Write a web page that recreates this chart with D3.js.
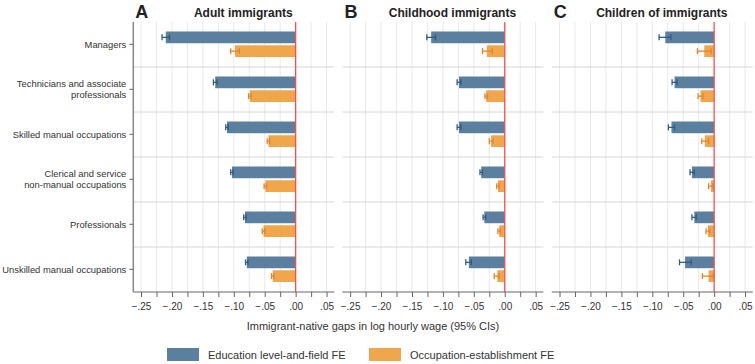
<!DOCTYPE html>
<html lang="en">
<head>
  <meta charset="UTF-8">
  <title>Immigrant-native wage gaps</title>
  <script src="https://cdn.jsdelivr.net/npm/d3@7"></script>
  <style>
    body { margin: 0; background: #fff; }
    svg text { font-family: "Liberation Sans", Arial, sans-serif; fill: #333; }
  </style>
</head>
<body>
  <svg id="chart"></svg>
  <script>
    // occupations, top to bottom
    var occupations = [
      ["Managers"],
      ["Technicians and associate", "professionals"],
      ["Skilled manual occupations"],
      ["Clerical and service", "non-manual occupations"],
      ["Professionals"],
      ["Unskilled manual occupations"]
    ];
    var panels = ["A", "B", "C"];
    var panelTitles = ["Adult immigrants", "Childhood immigrants", "Children of immigrants"];
    var seriesNames = ["Education level-and-field FE", "Occupation-establishment FE"];
    var tickValues = [-0.25, -0.2, -0.15, -0.1, -0.05, 0, 0.05];

    // point estimates [panel][occupation]
    var eduEst = [
      [-0.210, -0.130, -0.111, -0.103, -0.082, -0.079],
      [-0.119, -0.074, -0.074, -0.038, -0.033, -0.058],
      [-0.079, -0.064, -0.069, -0.036, -0.032, -0.047]
    ];
    var eduLo = [
      [-0.216, -0.133, -0.113, -0.105, -0.084, -0.081],
      [-0.126, -0.077, -0.077, -0.040, -0.035, -0.063],
      [-0.089, -0.068, -0.074, -0.039, -0.036, -0.056]
    ];
    var eduHi = [
      [-0.204, -0.127, -0.109, -0.101, -0.080, -0.077],
      [-0.112, -0.071, -0.071, -0.036, -0.031, -0.054],
      [-0.070, -0.060, -0.064, -0.032, -0.029, -0.037]
    ];
    var occEst = [
      [-0.098, -0.074, -0.044, -0.049, -0.052, -0.037],
      [-0.029, -0.030, -0.022, -0.011, -0.009, -0.012],
      [-0.016, -0.022, -0.015, -0.005, -0.010, -0.009]
    ];
    var occLo = [
      [-0.105, -0.076, -0.046, -0.051, -0.054, -0.039],
      [-0.036, -0.032, -0.025, -0.013, -0.011, -0.017],
      [-0.027, -0.026, -0.020, -0.009, -0.013, -0.019]
    ];
    var occHi = [
      [-0.091, -0.072, -0.042, -0.047, -0.050, -0.035],
      [-0.020, -0.028, -0.019, -0.009, -0.007, -0.009],
      [-0.005, -0.018, -0.009, -0.002, -0.007, -0.001]
    ];

    var width = 755, height = 364;
    var plotTop = 22, plotBottom = 292;
    var panelLeft = [133.3, 342.4, 551.8], panelW = 201;
    var barColor = ["#5b7f9f", "#f0a64a"];
    var ciColor = ["#2f5a85", "#e4842a"];

    var svg = d3.select("#chart").attr("width", width).attr("height", height);

    var y = d3.scaleBand().domain(d3.range(occupations.length)).range([plotTop, plotBottom]);
    var yIn = d3.scaleBand().domain([0, 1]).range([9.5, 35]).paddingInner(0.15);

    var fmt = function(v) {
      if (Math.abs(v) < 1e-9) return ".00";
      var s = d3.format(".2f")(Math.abs(v)).replace(/^0/, "");
      return v < 0 ? "\u2212" + s : s;
    };

    panels.forEach(function(p, pi) {
      var x = d3.scaleLinear().domain([-0.2625, 0.0625]).range([panelLeft[pi], panelLeft[pi] + panelW]);
      var g = svg.append("g");
      var grid = d3.range(-0.25, 0.0626, 0.025).filter(function(v) { return Math.abs(v) > 1e-9; });

      // vertical grid
      g.selectAll(".vg").data(grid).enter().append("line")
          .attr("x1", function(d) { return x(d); }).attr("x2", function(d) { return x(d); })
          .attr("y1", plotTop).attr("y2", plotBottom)
          .attr("stroke", "#e9e9e9").attr("stroke-width", 1);

      // group separators
      g.selectAll(".hg").data(d3.range(1, occupations.length)).enter().append("line")
          .attr("x1", panelLeft[pi]).attr("x2", panelLeft[pi] + panelW)
          .attr("y1", function(d) { return y(d); }).attr("y2", function(d) { return y(d); })
          .attr("stroke", "#d6d6d6").attr("stroke-width", 1);

      var series = [
        { est: eduEst[pi], lo: eduLo[pi], hi: eduHi[pi] },
        { est: occEst[pi], lo: occLo[pi], hi: occHi[pi] }
      ];
      series.forEach(function(s, si) {
        var rows = s.est.map(function(v, i) { return { i: i, v: v, lo: s.lo[i], hi: s.hi[i] }; });
        g.selectAll(".bar" + si).data(rows).enter().append("rect")
            .attr("x", function(d) { return x(d.v); })
            .attr("width", function(d) { return x(0) - x(d.v); })
            .attr("y", function(d) { return y(d.i) + yIn(si); })
            .attr("height", yIn.bandwidth())
            .attr("fill", barColor[si]);
        var ci = g.selectAll(".ci" + si).data(rows).enter().append("g")
            .attr("transform", function(d) { return "translate(0," + (y(d.i) + yIn(si) + yIn.bandwidth() / 2) + ")"; });
        ci.append("line")
            .attr("x1", function(d) { return x(d.lo); }).attr("x2", function(d) { return x(d.hi); })
            .attr("stroke", ciColor[si]).attr("stroke-width", 1.3);
        [ "lo", "hi" ].forEach(function(k) {
          ci.append("line")
              .attr("x1", function(d) { return x(d[k]); }).attr("x2", function(d) { return x(d[k]); })
              .attr("y1", -3).attr("y2", 3)
              .attr("stroke", ciColor[si]).attr("stroke-width", 1.3);
        });
      });

      // zero line
      g.append("line")
          .attr("x1", x(0)).attr("x2", x(0)).attr("y1", plotTop).attr("y2", plotBottom)
          .attr("stroke", "#ff4a4a").attr("stroke-width", 1.3);

      // x axis
      var ax = g.append("g").attr("transform", "translate(0," + plotBottom + ")")
          .call(d3.axisBottom(x).tickValues(d3.range(-0.25, 0.0626, 0.025)).tickSize(5)
              .tickFormat(function(d) { return tickValues.some(function(t) { return Math.abs(t - d) < 1e-9; }) ? fmt(d) : ""; }));
      ax.select(".domain").attr("stroke", "#666").attr("d", "M" + panelLeft[pi] + ",0H" + (panelLeft[pi] + panelW));
      ax.selectAll(".tick line").attr("stroke", "#666");
      ax.selectAll(".tick text").attr("dy", "0.95em").style("font-size", "10px").style("fill", "#333");

      // titles
      svg.append("text").attr("x", panelLeft[pi] + 2).attr("y", 18)
          .style("font-size", "18px").style("font-weight", "bold").style("fill", "#222").text(p);
      svg.append("text").attr("x", panelLeft[pi] + panelW / 2 + 9.5).attr("y", 17)
          .attr("text-anchor", "middle")
          .style("font-size", "12px").style("font-weight", "bold").style("fill", "#222").text(panelTitles[pi]);
    });

    // y axis (panel A only)
    svg.append("line").attr("x1", panelLeft[0]).attr("x2", panelLeft[0]).attr("y1", plotTop).attr("y2", plotBottom)
        .attr("stroke", "#888").attr("stroke-width", 1.5);
    var yl = svg.selectAll(".ylab").data(occupations).enter().append("g")
        .attr("transform", function(d, i) { return "translate(" + panelLeft[0] + "," + (y(i) + 22.3) + ")"; });
    yl.append("line").attr("x1", -4).attr("x2", 0).attr("stroke", "#666");
    yl.append("text").attr("x", -7).attr("text-anchor", "end").style("font-size", "9.4px")
        .each(function(d) {
          var t = d3.select(this);
          d.forEach(function(line, k) {
            t.append("tspan").attr("x", -7)
                .attr("dy", k === 0 ? (d.length === 1 ? "0.35em" : "-0.2em") : "1.15em")
                .text(line);
          });
        });

    // x axis title
    svg.append("text").attr("x", 373).attr("y", 330).attr("text-anchor", "middle")
        .style("font-size", "11px").text("Immigrant-native gaps in log hourly wage (95% CIs)");

    // legend
    var legX = [167, 369];
    var lg = svg.selectAll(".leg").data(seriesNames).enter().append("g")
        .attr("transform", function(d, i) { return "translate(" + legX[i] + ",348)"; });
    lg.append("rect").attr("width", 32).attr("height", 13)
        .attr("fill", function(d, i) { return barColor[i]; });
    lg.append("text").attr("x", 41).attr("y", 10.5).style("font-size", "11px").text(function(d) { return d; });
  </script>
</body>
</html>
